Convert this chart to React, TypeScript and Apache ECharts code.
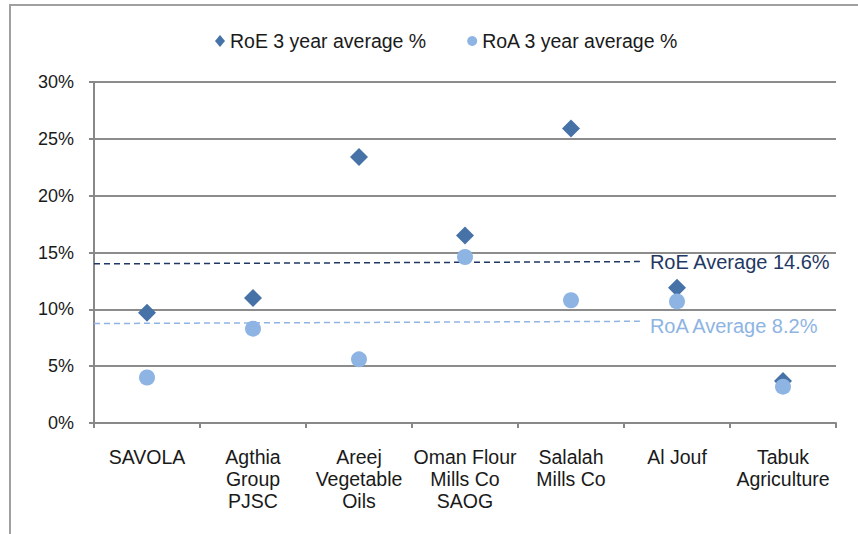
import React, { useEffect, useRef } from "react";
import * as echarts from "echarts";

const categories = [
  "SAVOLA",
  "Agthia\nGroup\nPJSC",
  "Areej\nVegetable\nOils",
  "Oman Flour\nMills Co\nSAOG",
  "Salalah\nMills Co",
  "Al Jouf",
  "Tabuk\nAgriculture",
];
const roe = [9.7, 11.0, 23.4, 16.5, 25.9, 11.9, 3.7];
const roa = [4.0, 8.3, 5.6, 14.6, 10.8, 10.7, 3.2];
const roeAvgLine = [
  [0, 14.0],
  [5.15, 14.2],
];
const roaAvgLine = [
  [0, 8.75],
  [5.15, 8.95],
];
const roeAvgLabel = "RoE Average 14.6%";
const roaAvgLabel = "RoA Average 8.2%";
const yTicks = { min: 0, max: 30, interval: 5 };

const FONT = "'Liberation Sans', Arial, sans-serif";

export default function App() {
  const ref = useRef<HTMLDivElement>(null);
  useEffect(() => {
    if (!ref.current) return;
    const chart = echarts.init(ref.current, null, { renderer: "svg" });
    chart.setOption({
      animation: false,
      textStyle: { fontFamily: FONT },
      graphic: [
        {
          type: "rect",
          shape: { x: 10, y: 5, width: 900, height: 600 },
          style: { fill: "none", stroke: "#a0a0a0", lineWidth: 2 },
          silent: true,
        },
      ],
      legend: {
        data: [
          { name: "RoE 3 year average %", icon: "diamond" },
          { name: "RoA 3 year average %", icon: "circle" },
        ],
        top: 26,
        left: 210,
        itemWidth: 10,
        itemHeight: 12,
        itemGap: 41,
        textStyle: { fontSize: 19.5, color: "#1a1a1a", fontFamily: FONT },
      },
      grid: { left: 94, right: 22, top: 82, bottom: 111 },
      xAxis: [
        {
          type: "category",
          data: categories,
          axisLine: { lineStyle: { color: "#888", width: 2 } },
          axisTick: { show: true, length: 5, lineStyle: { color: "#888", width: 2 } },
          axisLabel: {
            interval: 0,
            margin: 23,
            fontSize: 19.5,
            lineHeight: 22,
            color: "#1a1a1a",
            fontFamily: FONT,
          },
        },
        {
          type: "value",
          min: 0,
          max: 7,
          show: false,
        },
      ],
      yAxis: {
        type: "value",
        min: yTicks.min,
        max: yTicks.max,
        interval: yTicks.interval,
        axisLine: { show: true, lineStyle: { color: "#888", width: 2 } },
        axisTick: { show: true, length: 5, lineStyle: { color: "#888", width: 2 } },
        splitLine: { lineStyle: { color: "#8c8c8c", width: 2 } },
        axisLabel: {
          formatter: "{value}%",
          fontSize: 18,
          margin: 20,
          color: "#1a1a1a",
          fontFamily: FONT,
        },
      },
      series: [
        {
          name: "RoE avg",
          type: "line",
          xAxisIndex: 1,
          data: roeAvgLine,
          symbol: "none",
          lineStyle: { color: "#1f3864", width: 1.5, type: [6, 4] },
          endLabel: {
            show: true,
            formatter: roeAvgLabel,
            distance: 10,
            fontSize: 20,
            color: "#1f3864",
            fontFamily: FONT,
          },
          z: 1,
        },
        {
          name: "RoA avg",
          type: "line",
          xAxisIndex: 1,
          data: roaAvgLine,
          symbol: "none",
          lineStyle: { color: "#8eb4e3", width: 1.5, type: [6, 4] },
          endLabel: {
            show: true,
            formatter: roaAvgLabel,
            distance: 10,
            offset: [0, 5],
            fontSize: 20,
            color: "#8eb4e3",
            fontFamily: FONT,
          },
          z: 1,
        },
        {
          name: "RoE 3 year average %",
          type: "scatter",
          data: roe,
          symbol: "diamond",
          symbolSize: 18,
          itemStyle: { color: "#4672a8", opacity: 1 },
          z: 3,
        },
        {
          name: "RoA 3 year average %",
          type: "scatter",
          data: roa,
          symbol: "circle",
          symbolSize: 16,
          itemStyle: { color: "#8eb4e3", opacity: 1 },
          z: 4,
        },
      ],
    });
    return () => chart.dispose();
  }, []);
  return (
    <div
      ref={ref}
      style={{ position: "absolute", left: 0, top: 0, width: 858, height: 534 }}
    />
  );
}
